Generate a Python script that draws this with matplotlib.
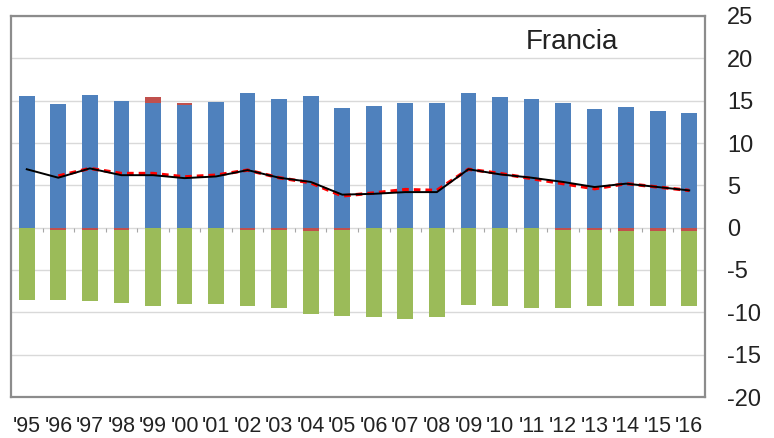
import numpy as np
import matplotlib
matplotlib.use('Agg')
import matplotlib.pyplot as plt

plt.rcParams['font.family'] = ['Liberation Sans', 'DejaVu Sans']
plt.rcParams['axes.unicode_minus'] = False

# data
years = ["'95", "'96", "'97", "'98", "'99", "'00", "'01", "'02", "'03", "'04", "'05",
         "'06", "'07", "'08", "'09", "'10", "'11", "'12", "'13", "'14", "'15", "'16"]
blue = [15.5, 14.6, 15.7, 15.0, 14.7, 14.5, 14.9, 15.9, 15.2, 15.5, 14.1,
        14.4, 14.7, 14.7, 15.9, 15.4, 15.2, 14.7, 14.0, 14.3, 13.8, 13.6]
red_pos = [0, 0, 0, 0, 0.7, 0.2, 0, 0, 0, 0, 0,
           0, 0, 0, 0, 0, 0, 0, 0, 0, 0, 0]
red_neg = [0, -0.3, -0.25, -0.25, 0, 0, 0, -0.25, -0.3, -0.45, -0.3,
           0, 0, 0, 0, 0, 0, -0.3, -0.3, -0.35, -0.45, -0.4]
green = [-8.5, -8.3, -8.45, -8.65, -9.2, -9.0, -9.0, -8.95, -9.2, -9.75, -10.1,
         -10.6, -10.8, -10.55, -9.1, -9.2, -9.45, -9.15, -9.0, -8.85, -8.75, -8.8]
line_black = [6.9, 5.9, 7.0, 6.2, 6.2, 5.85, 6.05, 6.8, 5.9, 5.4, 3.9,
              4.0, 4.2, 4.2, 6.9, 6.3, 5.9, 5.4, 4.8, 5.2, 4.8, 4.4]
line_red = [np.nan, 6.1, 7.0, 6.4, 6.4, 6.0, 6.2, 6.8, 5.9, 5.3, 3.75,
            4.1, 4.5, 4.4, 6.9, 6.4, 5.8, 5.2, 4.6, 5.2, 4.8, 4.4]

c_blue = '#4F81BD'
c_red = '#C0504D'
c_green = '#9BBB59'
c_grid = '#D9D9D9'
c_frame = '#8C8C8C'

fig = plt.figure(figsize=(7.74, 4.38), dpi=100)
ax = fig.add_axes([11 / 774, 41 / 438, 694 / 774, 381 / 438])

x = np.arange(len(years))
w = 0.5

# stacked bars, positives up, negatives down
ax.bar(x, blue, w, color=c_blue, zorder=2)
ax.bar(x, red_pos, w, bottom=blue, color=c_red, zorder=2)
ax.bar(x, red_neg, w, color=c_red, zorder=2)
ax.bar(x, green, w, bottom=red_neg, color=c_green, zorder=2)

# lines
ax.plot(x, line_red, color='#FF0000', lw=2.4, ls=(0, (2, 1.5)), zorder=3)
ax.plot(x, line_black, color='black', lw=1.4, zorder=4)

# category tick marks on the zero line
ax.vlines(x[:-1] + 0.5, -0.55, 0, color='#A6A6A6', lw=0.8, zorder=1)

ax.set_xlim(-0.5, len(years) - 0.5)
ax.set_ylim(-20, 25)
ax.set_yticks(np.arange(-20, 26, 5))
ax.yaxis.tick_right()
ax.tick_params(axis='y', length=0, pad=16, labelsize=17, colors='#222222')
ax.grid(axis='y', color=c_grid, lw=1, zorder=0)
ax.set_axisbelow(True)

ax.set_xticks(x)
ax.set_xticklabels(years)
ax.tick_params(axis='x', length=0, pad=14, labelsize=15.5, colors='#222222')

for s in ax.spines.values():
    s.set_color(c_frame)
    s.set_linewidth(1.6)

ax.text(0.808, 0.932, 'Francia', transform=ax.transAxes, fontsize=20,
        ha='center', va='center', color='#222222')

fig.savefig('out.png', dpi=100)
